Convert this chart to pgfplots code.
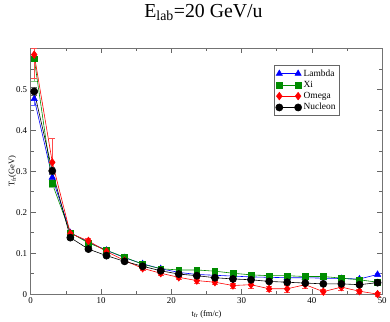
\documentclass[border=0pt]{standalone}
\usepackage{fontspec}
\setmainfont{Liberation Serif}
\usepackage{pgfplots}
\pgfplotsset{compat=1.18}
\definecolor{xgreen}{RGB}{0,140,0}
\begin{document}
\begin{tikzpicture}
\begin{axis}[
  scale only axis, width=355pt, height=248pt,
  xmin=0, xmax=50, ymin=0, ymax=0.6,
  xtick={0,10,20,30,40,50}, minor x tick num=1,
  ytick={0,0.1,0.2,0.3,0.4,0.5,0.6},
  yticklabels={0,0.1,0.2,0.3,0.4,0.5,{}},
  minor y tick num=1,
  tick align=inside, major tick length=5pt, minor tick length=3pt,
  axis line style={black!55, line width=0.8pt},
  every tick/.style={black!60, line width=0.6pt},
  tick label style={font=\fontsize{9}{10}\selectfont},
  /pgf/number format/assume math mode=true,
  xlabel={t\textsubscript{fr} (fm/c)},
  ylabel={T\textsubscript{fr}(GeV)},
  label style={font=\fontsize{8.5}{10}\selectfont},
  xlabel style={yshift=0pt},
  ylabel style={yshift=-7pt},
  clip=false,
  legend style={at={(0.879,0.931)}, anchor=north east, draw=black!60,
    font=\fontsize{9.5}{10}\selectfont, inner sep=2pt, row sep=-0.5pt,
    cells={anchor=west}},
  legend image code/.code={\draw[#1] plot coordinates {(0pt,0pt) (19pt,0pt)};},
  error bars/y dir=both, error bars/y explicit,
  error bars/error mark options={rotate=90, mark size=3pt},
]
\addplot[blue, line width=0.6pt, mark=triangle*, mark size=3.6pt,
  error bars/error bar style={blue!60}]
  coordinates {
  (0.5,0.477) +- (0,0.015)
  (3.07,0.285) +- (0,0.01)
  (5.64,0.150) +- (0,0.004)
  (8.21,0.127) +- (0,0.003)
  (10.78,0.107) +- (0,0.003)
  (13.35,0.089) +- (0,0.003)
  (15.92,0.074) +- (0,0.003)
  (18.49,0.062) +- (0,0.003)
  (21.06,0.053) +- (0,0.003)
  (23.63,0.048) +- (0,0.003)
  (26.2,0.046) +- (0,0.003)
  (28.77,0.044) +- (0,0.003)
  (31.34,0.042) +- (0,0.003)
  (33.91,0.041) +- (0,0.003)
  (36.48,0.040) +- (0,0.003)
  (39.05,0.040) +- (0,0.003)
  (41.62,0.039) +- (0,0.003)
  (44.19,0.038) +- (0,0.003)
  (46.76,0.037) +- (0,0.003)
  (49.33,0.048) +- (0,0.004)
  };
\addlegendentry{Lambda}
\addplot[xgreen, line width=0.6pt, mark=square*, mark size=2.9pt,
  error bars/error bar style={xgreen!50}]
  coordinates {
  (0.5,0.575) += (0,0.025) -= (0,0.055)
  (3.07,0.270) +- (0,0.01)
  (5.64,0.150) +- (0,0.004)
  (8.21,0.125) +- (0,0.004)
  (10.78,0.107) +- (0,0.003)
  (13.35,0.090) +- (0,0.003)
  (15.92,0.073) +- (0,0.003)
  (18.49,0.062) +- (0,0.003)
  (21.06,0.059) +- (0,0.003)
  (23.63,0.059) +- (0,0.003)
  (26.2,0.056) +- (0,0.003)
  (28.77,0.051) +- (0,0.003)
  (31.34,0.047) +- (0,0.003)
  (33.91,0.045) +- (0,0.003)
  (36.48,0.045) +- (0,0.003)
  (39.05,0.043) +- (0,0.003)
  (41.62,0.043) +- (0,0.003)
  (44.19,0.039) +- (0,0.003)
  (46.76,0.035) +- (0,0.003)
  (49.33,0.029) +- (0,0.003)
  };
\addlegendentry{Xi}
\addplot[red, line width=0.6pt, mark=diamond*, mark size=3.8pt,
  error bars/error bar style={red!70}]
  coordinates {
  (0.5,0.585) += (0,0.015) -= (0,0.057)
  (3.07,0.322) +- (0,0.058)
  (5.64,0.148) +- (0,0.006)
  (8.21,0.130) +- (0,0.006)
  (10.78,0.104) +- (0,0.006)
  (13.35,0.082) +- (0,0.005)
  (15.92,0.063) +- (0,0.005)
  (18.49,0.051) +- (0,0.005)
  (21.06,0.041) +- (0,0.005)
  (23.63,0.033) +- (0,0.006)
  (26.2,0.029) +- (0,0.006)
  (28.77,0.021) +- (0,0.006)
  (31.34,0.023) +- (0,0.008)
  (33.91,0.013) +- (0,0.006)
  (36.48,0.013) +- (0,0.008)
  (39.05,0.023) +- (0,0.008)
  (41.62,0.006) +- (0,0.006)
  (44.19,0.017) +- (0,0.008)
  (46.76,0.007) +- (0,0.006)
  (49.33,0.000) +- (0,0.004)
  };
\addlegendentry{Omega}
\addplot[black, line width=0.6pt, mark=*, mark size=3.6pt,
  error bars/error bar style={black!60}]
  coordinates {
  (0.5,0.495) +- (0,0.01)
  (3.07,0.301) +- (0,0.008)
  (5.64,0.138) +- (0,0.003)
  (8.21,0.110) +- (0,0.003)
  (10.78,0.094) +- (0,0.003)
  (13.35,0.080) +- (0,0.002)
  (15.92,0.068) +- (0,0.002)
  (18.49,0.057) +- (0,0.002)
  (21.06,0.049) +- (0,0.002)
  (23.63,0.045) +- (0,0.002)
  (26.2,0.040) +- (0,0.002)
  (28.77,0.037) +- (0,0.002)
  (31.34,0.035) +- (0,0.002)
  (33.91,0.031) +- (0,0.002)
  (36.48,0.029) +- (0,0.002)
  (39.05,0.027) +- (0,0.002)
  (41.62,0.025) +- (0,0.002)
  (44.19,0.025) +- (0,0.002)
  (46.76,0.023) +- (0,0.002)
  (49.33,0.028) +- (0,0.002)
  };
\addlegendentry{Nucleon}
\end{axis}
\path ([shift={(-31pt,-26pt)}]current axis.south west) rectangle ([shift={(4pt,49pt)}]current axis.north east);
\path (current axis.north) ++(-3pt,31pt) node[anchor=base, font=\fontsize{20}{22}\selectfont, inner sep=0pt] {E\textsubscript{lab}=20 GeV/u};
\end{tikzpicture}
\end{document}
